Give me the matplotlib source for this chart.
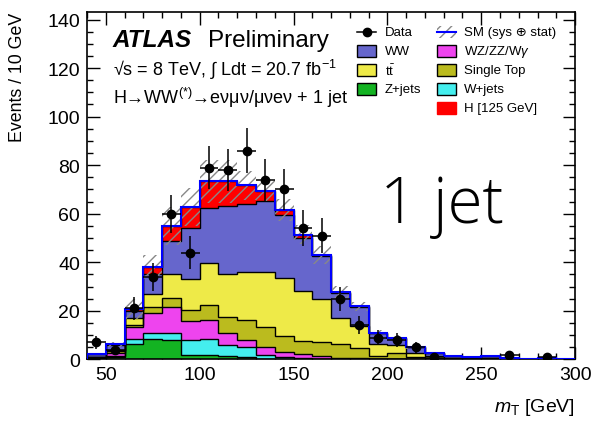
import numpy as np
import matplotlib
matplotlib.use('Agg')
import matplotlib.pyplot as plt
from matplotlib.patches import Rectangle
from matplotlib.ticker import MultipleLocator

plt.rcParams['font.family'] = ['Liberation Sans', 'DejaVu Sans']
plt.rcParams['mathtext.fontset'] = 'custom'
plt.rcParams['mathtext.rm'] = 'Liberation Sans'
plt.rcParams['mathtext.it'] = 'Liberation Sans:italic'
plt.rcParams['hatch.linewidth'] = 1.0

# bin edges in mT [GeV], 10 GeV bins from 40 to 300
edges = np.arange(40, 301, 10)

# background / signal components per bin
zjets = [0.3, 1.0, 6.5, 8.2, 7.8, 2.0, 1.9, 1.3, 0.8, 0.3, 0.2, 0.1, 0.1,
         0, 0, 0, 0, 0, 0, 0, 0, 0, 0, 0, 0, 0]
wjets = [0.2, 0.5, 1.7, 2.8, 3.0, 6.0, 6.5, 4.5, 4.1, 1.7, 0.7, 0.4, 0.2,
         0.2, 0.1, 0.1, 0.05, 0, 0, 0, 0, 0, 0, 0, 0, 0]
diboson = [0.3, 1.2, 5.0, 8.0, 10.7, 8.0, 7.9, 5.0, 2.9, 3.0, 2.0, 1.8, 1.0,
           0.5, 0.3, 0.2, 0.15, 0.1, 0.05, 0, 0, 0, 0, 0, 0, 0]
single_top = [0.1, 0.6, 0.8, 2.5, 3.7, 4.5, 6.3, 6.8, 8.5, 8.3, 6.6, 5.1, 5.7,
              5.8, 4.1, 1.1, 2.5, 0.8, 0.55, 0.3, 0.2, 0.3, 0.1, 0.05, 0.1, 0.05]
ttbar = [0.2, 0.6, 3.0, 5.5, 10.0, 12.8, 17.1, 17.6, 19.6, 22.8, 23.9, 20.9, 17.9,
         10.6, 9.4, 5.0, 3.3, 1.6, 0.6, 0.3, 0.3, 0.3, 0.1, 0.05, 0.1, 0.05]
ww = [1.0, 2.0, 2.8, 8.2, 13.7, 20.7, 22.5, 27.8, 28.1, 29.0, 26.2, 21.6, 17.8,
      10.4, 7.8, 4.4, 3.0, 2.4, 1.5, 1.0, 0.5, 1.0, 0.3, 0.2, 0.2, 0.1]
higgs = [0.1, 0.3, 1.0, 2.8, 5.9, 8.6, 11.1, 10.3, 7.8, 4.4, 1.9, 1.5, 0.4,
         0.2, 0.1, 0.1, 0, 0, 0, 0, 0, 0, 0, 0, 0, 0]

# total SM uncertainty (sys + stat)
sm_err = [0.5, 1.0, 4.0, 4.8, 7.8, 7.8, 9.0, 9.0, 6.0, 4.2, 4.5, 3.8, 3.8,
          2.5, 2.0, 1.2, 1.0, 0.6, 0.4, 0.3, 0.2, 0.3, 0.1, 0.1, 0.1, 0.05]

# observed events
data = [7, 4, 21, 34, 60, 44, 79, 78, 86, 74, 70, 54, 51, 25, 14, 9, 8, 5,
        1, 0, 0, 0, 2, 0, 1, 0]

components = [
    ('Z+jets', zjets, '#13b322'),
    ('W+jets', wjets, '#44eeee'),
    ('WZ/ZZ/W$\\gamma$', diboson, '#ee44ee'),
    ('Single Top', single_top, '#bbbb1e'),
    (r't$\bar{\rm t}$', ttbar, '#eeea48'),
    ('WW', ww, '#6666cc'),
    ('H [125 GeV]', higgs, '#ff0000'),
]

fig = plt.figure(figsize=(5.96, 4.27), dpi=100)
ax = fig.add_axes([0.146, 0.156, 0.819, 0.813])

# stacked histograms, drawn from the top of the stack down (ROOT style)
cum = np.cumsum([np.array(c[1], dtype=float) for c in components], axis=0)
for i in range(len(components) - 1, -1, -1):
    name, vals, col = components[i]
    ax.stairs(cum[i], edges, baseline=0, fill=True, facecolor=col,
              edgecolor='none', zorder=2)
    ax.stairs(cum[i], edges, baseline=0, fill=False, color='black',
              linewidth=1.0, zorder=3)

total = cum[-1]
err = np.array(sm_err)
centers = 0.5 * (edges[:-1] + edges[1:])

# uncertainty band
ax.bar(edges[:-1], 2 * err, width=10, bottom=total - err, align='edge',
       fill=False, hatch='///', edgecolor='#888888', linewidth=0, zorder=4)
ax.stairs(total, edges, baseline=0, color='#0000ff', linewidth=1.5, zorder=5)

# data points
d = np.array(data, dtype=float)
m = d > 0
ax.errorbar(centers[m], d[m], yerr=np.sqrt(d[m]), xerr=5, fmt='o',
            color='black', markersize=6, elinewidth=1.1, capsize=0, zorder=6)

ax.set_xlim(40, 300)
ax.set_ylim(0, 143)
ax.xaxis.set_major_locator(MultipleLocator(50))
ax.xaxis.set_minor_locator(MultipleLocator(10))
ax.yaxis.set_major_locator(MultipleLocator(20))
ax.yaxis.set_minor_locator(MultipleLocator(5))
ax.tick_params(which='both', direction='in', top=True, right=True,
               labelsize=14, width=1.0)
ax.tick_params(which='major', length=9, pad=5)
ax.tick_params(which='minor', length=4.5)
for s in ax.spines.values():
    s.set_linewidth(1.2)

ax.set_xlabel(r'$m_{\rm T}$ [GeV]', fontsize=14, ha='right', x=1.0)
ax.set_ylabel('Events / 10 GeV', fontsize=12.8, ha='right', y=1.0)
ax.yaxis.set_label_coords(-0.125, 1.0)
ax.xaxis.set_label_coords(1.0, -0.105)

# ATLAS labels
ax.text(0.053, 0.904, 'ATLAS', transform=ax.transAxes, fontsize=17.5,
        fontweight='bold', fontstyle='italic', va='baseline')
ax.text(0.248, 0.904, 'Preliminary', transform=ax.transAxes, fontsize=17.5,
        va='baseline')
ax.text(0.053, 0.818, '\u221as = 8 TeV, \u222b Ldt = 20.7 fb$^{-1}$',
        transform=ax.transAxes, fontsize=13, va='baseline')
ax.text(0.053, 0.738,
        'H\u2192WW$^{(*)}$\u2192e\u03bd\u03bc\u03bd/\u03bc\u03bde\u03bd + 1 jet',
        transform=ax.transAxes, fontsize=13, va='baseline')
ax.text(0.600, 0.396, '1 jet', transform=ax.transAxes, fontsize=46,
        family=['Open Sans', 'Liberation Sans'], fontweight='light',
        va='baseline')

# legend (two columns, drawn by hand to keep ROOT placement)
def px2ax(px, py):
    return (px - 87) / 488.0, (360.5 - py) / 347.0

rows = [33.3, 52.5, 71.5, 90.5, 109.5]
bw, bh = 19 / 488.0, 12 / 347.0
leg_fs = 9.5

def box(col_px, row, color, border=True):
    x, y = px2ax(col_px, rows[row])
    ax.add_patch(Rectangle((x, y - bh / 2), bw, bh, transform=ax.transAxes,
                           facecolor=color,
                           edgecolor='black' if border else color,
                           linewidth=1.0, zorder=7))

def label(text_px, row, text):
    x, y = px2ax(text_px, rows[row])
    ax.text(x, y, text, transform=ax.transAxes, fontsize=leg_fs,
            va='center', zorder=7)

# column 1
x0, y0 = px2ax(357, rows[0])
x1, _ = px2ax(376, rows[0])
ax.plot([x0, x1], [y0, y0], color='black', lw=1.1, transform=ax.transAxes,
        zorder=7)
ax.plot([(x0 + x1) / 2], [y0], 'o', color='black', ms=6,
        transform=ax.transAxes, zorder=7)
label(385, 0, 'Data')
box(357, 1, components[5][2]); label(385, 1, 'WW')
box(357, 2, components[4][2]); label(385, 2, components[4][0])
box(357, 3, components[0][2]); label(385, 3, 'Z+jets')

# column 2
xs, ys = px2ax(437, rows[0])
ax.add_patch(Rectangle((xs, ys - bh / 2), bw, bh, transform=ax.transAxes,
                       fill=False, hatch='///', edgecolor='#888888',
                       linewidth=0, zorder=7))
ax.plot([xs, xs + bw], [ys, ys], color='#0000ff', lw=1.5,
        transform=ax.transAxes, zorder=8)
label(464, 0, 'SM (sys \u2295 stat)')
box(437, 1, components[2][2]); label(464, 1, components[2][0])
box(437, 2, components[3][2]); label(464, 2, 'Single Top')
box(437, 3, components[1][2]); label(464, 3, 'W+jets')
box(437, 4, components[6][2], border=False); label(464, 4, 'H [125 GeV]')

fig.savefig('out.png', dpi=100)
